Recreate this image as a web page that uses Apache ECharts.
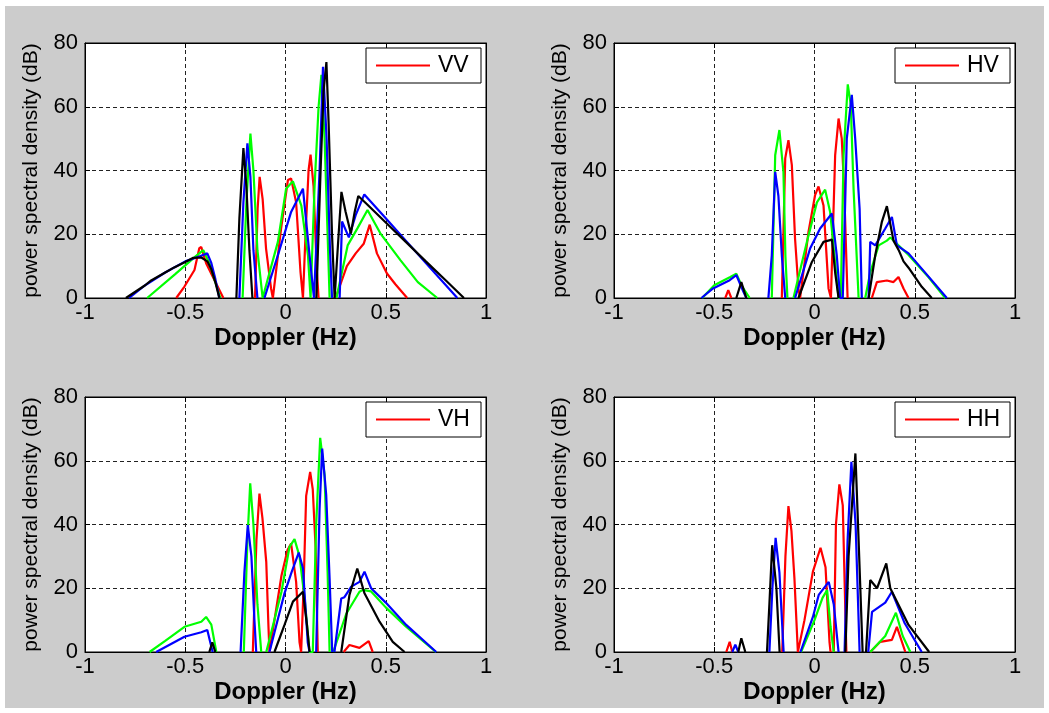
<!DOCTYPE html>
<html><head><meta charset="utf-8">
<script src="https://cdn.jsdelivr.net/npm/echarts@6/dist/echarts.min.js"></script>
<style>
html,body{margin:0;padding:0;background:#fff;}
#bg{position:absolute;left:5px;top:6px;width:1039px;height:702px;background:#cccccc;}
#chart{position:absolute;left:0;top:0;width:1049px;height:713px;}
</style></head>
<body><div id="bg"></div><div id="chart"></div>
<script>
// ---------- data (Doppler Hz, dB); null = gap ----------
const panelNames = ['VV', 'HV', 'VH', 'HH'];
const xTicks = [-1, -0.5, 0, 0.5, 1];
const yTicks = [0, 20, 40, 60, 80];

const vvRed = [[-0.545,0],[-0.504,3.6],[-0.454,8.8],[-0.43,15.6],[-0.42,16],[-0.396,10.9],[-0.354,5.6],[-0.31,0],null,
 [-0.152,0],[-0.139,28],[-0.129,38],[-0.114,31],[-0.097,15.5],[-0.072,3],[-0.063,0],[-0.022,21.8],[0.012,37],[0.028,37.5],[0.053,30],[0.075,8],[0.087,0],[0.10,20],[0.115,40],[0.125,45],[0.14,35],[0.155,10],[0.165,0],null,
 [0.25,0],[0.306,10],[0.35,14],[0.39,17],[0.42,23],[0.456,14],[0.506,7.7],[0.548,4.3],[0.607,0]];
const vvGreen = [[-0.69,0],[-0.55,7.5],[-0.45,13],[-0.41,15],[-0.38,11],[-0.35,5],[-0.325,0],null,
 [-0.214,0],[-0.195,30],[-0.175,51.6],[-0.16,40],[-0.14,15],[-0.114,0],[-0.109,0],[-0.038,17.6],[0.003,34.3],[0.037,36.6],[0.079,29],[0.112,13.4],[0.125,0],[0.145,35],[0.165,60],[0.179,70],[0.195,50],[0.21,20],[0.22,0],null,
 [0.254,0],[0.31,16.5],[0.36,22],[0.409,27.6],[0.473,20.3],[0.573,11.9],[0.66,5],[0.757,0]];
const vvBlue = [[-0.78,0],[-0.7,4],[-0.6,8],[-0.5,11.5],[-0.43,13],[-0.39,14],[-0.37,11],[-0.35,6],[-0.33,0],null,
 [-0.23,0],[-0.21,30],[-0.19,48.5],[-0.175,38],[-0.16,15],[-0.14,0],null,
 [-0.105,0],[-0.038,13.4],[0.028,27],[0.087,34.3],[0.12,13.4],[0.142,0],[0.15,0],[0.17,40],[0.187,72.5],[0.205,50],[0.222,15],[0.232,0],null,
 [0.27,0],[0.282,24],[0.316,19],[0.35,26],[0.393,32.5],[0.5,25],[0.6,18],[0.7,11],[0.8,4],[0.857,0]];
const vvBlack = [[-0.796,0],[-0.7,4],[-0.67,5.5],[-0.6,8],[-0.555,9.6],[-0.5,11.3],[-0.46,12.6],[-0.42,12.7],[-0.39,11.5],[-0.37,9],[-0.35,5],[-0.33,0],null,
 [-0.245,0],[-0.23,25],[-0.21,47],[-0.195,35],[-0.18,15],[-0.165,0],null,
 [0.154,0],[0.175,40],[0.19,65],[0.204,74],[0.215,55],[0.232,20],[0.245,0],[0.254,0],[0.265,20],[0.279,33.3],[0.3,27],[0.326,20.2],[0.345,27],[0.363,32],[0.4,29.8],[0.5,23.7],[0.6,17.6],[0.7,11.5],[0.8,5.5],[0.89,0]];

const hvRed = [[-0.445,0],[-0.43,2.5],[-0.415,0],null,
 [-0.163,0],[-0.146,43.8],[-0.13,49.5],[-0.113,41.7],[-0.097,18.6],[-0.08,3],[-0.072,0],[-0.03,20.7],[0.003,32.3],[0.02,35],[0.045,29],[0.07,3],[0.082,0],[0.103,44.8],[0.12,56.3],[0.136,50],[0.148,34],[0.16,10],[0.165,0],null,
 [0.286,0],[0.311,5],[0.361,5.5],[0.394,5],[0.419,6.6],[0.444,3],[0.469,0]];
const hvGreen = [[-0.56,0],[-0.5,4],[-0.42,6.6],[-0.39,7.6],[-0.36,3.5],[-0.323,0],null,
 [-0.213,0],[-0.196,44.8],[-0.175,52.7],[-0.155,39.6],[-0.145,13],[-0.135,0],null,
 [-0.105,0],[-0.038,17.6],[0.012,30],[0.053,34],[0.078,27],[0.103,11],[0.12,0],[0.131,0],[0.145,44.8],[0.166,67],[0.181,60.5],[0.195,34],[0.22,0],null,
 [0.253,0],[0.278,8],[0.32,16.5],[0.361,18],[0.378,19],[0.411,17],[0.469,13.5],[0.569,6.5],[0.652,0]];
const hvBlue = [[-0.564,0],[-0.506,3],[-0.423,5.6],[-0.39,7.2],[-0.355,2],[-0.34,0],null,
 [-0.23,0],[-0.213,13.4],[-0.196,39.6],[-0.18,32],[-0.163,13.4],[-0.146,0],null,
 [-0.097,0],[-0.022,15.5],[0.028,21.8],[0.087,26.5],[0.111,13.4],[0.128,0],[0.141,0],[0.161,50],[0.186,63.7],[0.203,50],[0.225,28],[0.236,0],null,
 [0.27,0],[0.278,17.6],[0.303,16.5],[0.353,21.8],[0.386,25.4],[0.411,16.5],[0.469,14],[0.569,6.7],[0.66,0]];
const hvBlack = [[-0.39,0],[-0.365,5],[-0.34,0],null,
 [-0.08,0],[-0.013,11.3],[0.045,17.6],[0.087,18.3],[0.103,8],[0.12,0],null,
 [0.27,0],[0.303,13.4],[0.336,23.9],[0.361,28.8],[0.394,18],[0.42,15],[0.444,11.5],[0.469,9.5],[0.535,3.5],[0.585,0]];

const vhRed = [[-0.163,0],[-0.145,35],[-0.13,49.7],[-0.115,42],[-0.096,28.3],[-0.085,8],[-0.08,0],[-0.05,12],[-0.02,24],[0.01,32],[0.028,34],[0.053,22],[0.07,3],[0.078,0],[0.09,20],[0.103,49],[0.123,56.5],[0.136,51],[0.15,33],[0.161,0],null,
 [0.29,0],[0.319,2.2],[0.369,1.3],[0.415,3.4],[0.435,0]];
const vhGreen = [[-0.678,0],[-0.6,3.5],[-0.504,7.9],[-0.42,9.5],[-0.396,11],[-0.37,8.6],[-0.345,0],null,
 [-0.208,0],[-0.19,35],[-0.176,52.9],[-0.16,40],[-0.14,15],[-0.121,0],null,
 [-0.096,0],[-0.02,18.9],[0.02,33],[0.045,35.4],[0.07,30],[0.095,17],[0.12,0],[0.136,0],[0.153,40],[0.173,67.2],[0.195,55.5],[0.21,25],[0.22,0],null,
 [0.238,0],[0.303,12],[0.369,18.9],[0.386,19.5],[0.427,19],[0.5,14],[0.6,8],[0.75,0]];
const vhBlue = [[-0.645,0],[-0.504,4.8],[-0.42,6.2],[-0.39,6.9],[-0.375,3],[-0.363,0],null,
 [-0.224,0],[-0.205,25],[-0.188,39.8],[-0.17,30],[-0.155,10],[-0.146,0],null,
 [-0.08,0],[-0.005,18.4],[0.03,25],[0.066,31.2],[0.087,26.3],[0.111,3],[0.12,0],null,
 [0.153,0],[0.17,45],[0.183,63.8],[0.203,49.3],[0.22,23],[0.233,0],null,
 [0.244,0],[0.278,16.8],[0.294,17.2],[0.328,20.5],[0.369,22],[0.394,25.2],[0.427,20],[0.5,15.5],[0.602,8.5],[0.752,0]];
const vhBlack = [[-0.38,0],[-0.365,3],[-0.35,0],null,
 [-0.055,0],[-0.005,8.5],[0.037,15.8],[0.087,18.9],[0.107,8.5],[0.12,0],null,
 [0.278,0],[0.319,17.9],[0.358,26.2],[0.394,18.4],[0.469,9.5],[0.535,3.2],[0.594,0]];

const hhRed = [[-0.44,0],[-0.423,3.2],[-0.41,0],null,
 [-0.161,0],[-0.145,30],[-0.13,45.8],[-0.115,38],[-0.1,23],[-0.083,0],[-0.05,10],[-0.008,25.2],[0.03,32.7],[0.055,26.6],[0.075,3],[0.08,0],null,
 [0.096,0],[0.107,40],[0.124,52.6],[0.141,46],[0.151,20],[0.159,0],null,
 [0.278,0],[0.328,3.2],[0.386,3.8],[0.411,7.9],[0.453,0]];
const hhGreen = [[-0.067,0],[0.0,10],[0.04,17],[0.063,19.4],[0.08,8],[0.096,0],null,
 [0.278,0],[0.353,5],[0.406,12.3],[0.44,5],[0.478,0]];
const hhBlue = [[-0.41,0],[-0.395,2.3],[-0.38,0],null,
 [-0.225,0],[-0.21,20],[-0.194,35.8],[-0.175,25],[-0.154,0],null,
 [-0.07,0],[-0.008,11],[0.021,17.9],[0.071,22],[0.096,15],[0.12,0],null,
 [0.15,0],[0.165,35],[0.184,59.7],[0.205,40],[0.225,0],null,
 [0.268,0],[0.287,12.6],[0.353,15.5],[0.386,18.9],[0.45,9],[0.535,0]];
const hhBlack = [[-0.38,0],[-0.365,4.3],[-0.345,0],null,
 [-0.237,0],[-0.225,15],[-0.211,33.5],[-0.19,20],[-0.174,0],null,
 [0.154,0],[0.17,30],[0.204,62.3],[0.22,35],[0.24,0],null,
 [0.257,0],[0.278,22.6],[0.312,20],[0.358,27.8],[0.378,20],[0.469,8.5],[0.572,0]];

const panelLines = [
  [vvRed, vvGreen, vvBlue, vvBlack],
  [hvRed, hvGreen, hvBlue, hvBlack],
  [vhRed, vhGreen, vhBlue, vhBlack],
  [hhRed, hhGreen, hhBlue, hhBlack]
];
const lineColors = ['#ff0000', '#00ff00', '#0000ff', '#000000'];

// ---------- layout ----------
const FONT = 'Liberation Sans, Arial, Helvetica, sans-serif';
const gridPos = [
  {left: 85, top: 43}, {left: 614, top: 43},
  {left: 85, top: 397}, {left: 614, top: 397}
];
const GW = 401, GH = 255;

const grids = [], xAxes = [], yAxes = [], series = [], legends = [];
gridPos.forEach((g, i) => {
  grids.push({left: g.left, top: g.top, width: GW, height: GH, show: true,
    backgroundColor: '#ffffff', borderColor: '#000', borderWidth: 1, z: 0});
  const tick = {show: true, inside: true, length: 5, lineStyle: {color: '#000', width: 1}};
  xAxes.push({type: 'value', gridIndex: i, min: xTicks[0], max: xTicks[xTicks.length-1],
    interval: xTicks[1] - xTicks[0], position: 'bottom',
    axisLine: {show: true, onZero: false, lineStyle: {color: '#000', width: 1}},
    axisTick: tick,
    axisLabel: {color: '#000', fontSize: 22, fontFamily: FONT, margin: 4},
    splitLine: {show: true, lineStyle: {color: '#222', type: [4, 3], width: 1}},
    name: 'Doppler (Hz)', nameLocation: 'middle', nameGap: 28,
    nameTextStyle: {color: '#000', fontSize: 24, fontWeight: 'bold', fontFamily: FONT}});
  yAxes.push({type: 'value', gridIndex: i, min: yTicks[0], max: yTicks[yTicks.length-1],
    interval: yTicks[1] - yTicks[0], position: 'left',
    axisLine: {show: true, onZero: false, lineStyle: {color: '#000', width: 1}},
    axisTick: tick,
    axisLabel: {color: '#000', fontSize: 22, fontFamily: FONT, margin: 7},
    splitLine: {show: true, lineStyle: {color: '#222', type: [4, 3], width: 1}},
    name: 'power spectral density (dB)', nameLocation: 'middle', nameGap: 43,
    nameTextStyle: {color: '#000', fontSize: 21, fontFamily: FONT}});
  panelLines[i].forEach((arr, j) => {
    series.push({type: 'line', name: j === 0 ? panelNames[i] : panelNames[i] + '_' + j,
      xAxisIndex: i, yAxisIndex: i, showSymbol: false, animation: false, silent: true,
      connectNulls: false, z: 2 + j,
      lineStyle: {color: lineColors[j], width: 2.2}, itemStyle: {color: lineColors[j]},
      data: arr.map(p => p === null ? ['-', '-'] : p)});
  });
  legends.push({data: [panelNames[i]], left: g.left + 281, top: g.top + 5,
    orient: 'horizontal', icon: 'rect', itemWidth: 54, itemHeight: 2,
    backgroundColor: '#ffffff', borderColor: '#000', borderWidth: 1, borderRadius: 0,
    padding: [6, 7, 6, 10], selectedMode: false,
    textStyle: {color: '#000', fontSize: 23, fontFamily: FONT, width: 36, lineHeight: 23, padding: [0, 0, 0, 3]}});
});
// mirror axes for top/right ticks (box)
gridPos.forEach((g, i) => {
  const tick = {show: true, inside: true, length: 5, lineStyle: {color: '#000', width: 1}};
  xAxes.push({type: 'value', gridIndex: i, min: xTicks[0], max: xTicks[xTicks.length-1],
    interval: xTicks[1] - xTicks[0], position: 'top',
    axisLine: {show: true, onZero: false, lineStyle: {color: '#000'}}, axisTick: tick,
    axisLabel: {show: false}, splitLine: {show: false}});
  yAxes.push({type: 'value', gridIndex: i, min: yTicks[0], max: yTicks[yTicks.length-1],
    interval: yTicks[1] - yTicks[0], position: 'right',
    axisLine: {show: true, onZero: false, lineStyle: {color: '#000'}}, axisTick: tick,
    axisLabel: {show: false}, splitLine: {show: false}});
});

const chart = echarts.init(document.getElementById('chart'), null, {renderer: 'canvas'});
chart.setOption({
  backgroundColor: 'transparent',
  animation: false,
  grid: grids, xAxis: xAxes, yAxis: yAxes, legend: legends, series: series
});
</script></body></html>
